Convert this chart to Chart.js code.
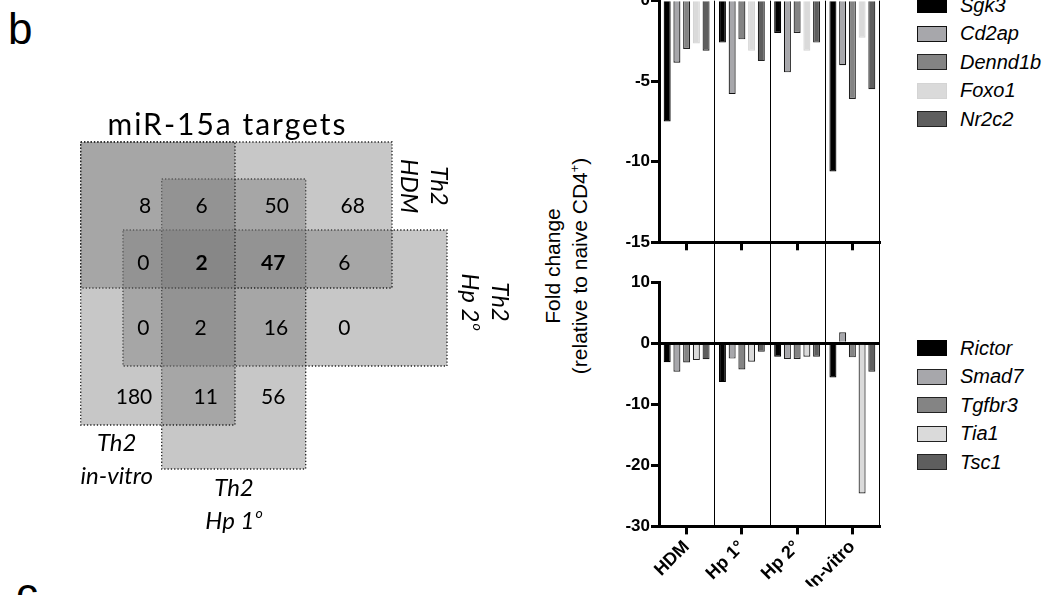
<!DOCTYPE html>
<html>
<head>
<meta charset="utf-8">
<script src="https://cdn.jsdelivr.net/npm/chart.js@4.4.1/dist/chart.umd.min.js"></script>
<style>
html,body{margin:0;padding:0;background:#fff;}
body{width:1048px;height:595px;position:relative;overflow:hidden;font-family:"Liberation Sans",Arial,sans-serif;color:#000;}
canvas{position:absolute;}
.panel{position:absolute;font-size:44px;line-height:44px;}
#ytitle{position:absolute;left:566px;top:266px;transform:translate(-50%,-50%) rotate(-90deg);white-space:nowrap;text-align:center;font-size:21px;line-height:27px;}
#ytitle sup{font-size:0.6em;line-height:0;vertical-align:super;}
.legend{position:absolute;left:917px;top:0;}
.legend .row{position:absolute;left:0;height:20px;display:flex;align-items:center;white-space:nowrap;}
.legend .box{width:30px;height:16px;box-sizing:border-box;border:1.5px solid #000;}
.legend .lbl{font-style:italic;font-size:20px;margin-left:13px;}
</style>
</head>
<body>
<div class="panel" style="left:8px;top:7px;">b</div>
<div class="panel" style="left:16px;top:572px;">c</div>

<canvas id="venn" width="460" height="440" style="left:60px;top:100px;"></canvas>
<canvas id="topChart" width="285" height="290" style="left:599px;top:-30px;"></canvas>
<canvas id="bottomChart" width="285" height="355" style="left:599px;top:240px;"></canvas>

<div id="ytitle">Fold change<br>(relative to naive CD4<sup>+</sup>)</div>
<div class="legend" id="legendTop"></div>
<div class="legend" id="legendBottom"></div>

<script>
// groups on the x axis
const groups=['HDM','Hp 1°','Hp 2°','In-vitro'];

// upper panel (fold change)
const topSeries=['Sgk3','Cd2ap','Dennd1b','Foxo1','Nr2c2'];
const sgk3=[-7.5,-2.6,-2.0,-10.6];
const cd2ap=[-3.85,-5.8,-4.45,-4.0];
const dennd1b=[-3.0,-2.4,-2.0,-6.1];
const foxo1=[-2.65,-3.1,-3.1,-2.3];
const nr2c2=[-3.1,-3.75,-2.6,-5.5];
const topTicks=[0,-5,-10,-15];

// lower panel
const bottomSeries=['Rictor','Smad7','Tgfbr3','Tia1','Tsc1'];
const rictor=[-3.1,-6.35,-2.2,-5.6];
const smad7=[-4.65,-2.5,-2.55,1.8];
const tgfbr3=[-3.15,-4.3,-2.55,-2.3];
const tia1=[-2.75,-3.0,-2.2,-24.6];
const tsc1=[-2.6,-1.4,-2.2,-4.65];
const bottomTicks=[10,0,-10,-20,-30];

// venn: overlap counts, row by row
const vennTitle='miR-15a targets';
const vennCounts=[8,6,50,68, 0,2,47,6, 0,2,16,0, 180,11,56];
const vennBold=[0,0,0,0, 0,1,1,0, 0,0,0,0, 0,0,0];
const vennSetNames=[['Th2','in-vitro'],['Th2','HDM'],['Th2','Hp 1^o'],['Th2','Hp 2^o']];

// ---- styles / layout ----
const fills=['#000000','#a7a7ab','#848484','#dadada','#5e5e5e'];
const topBorders=['#000','#111','#222','#d4d4d4','#222'];
const bottomBorders=['#000','#222','#222','#222','#222'];
const tickFont={family:'Liberation Sans',size:17,weight:'bold'};

// set boxes in diagram units [x0,x1,y0,y1] (in-vitro, HDM, Hp1, Hp2)
const vennBoxes=[[20.7,175,42,325],[20.7,332,42,188],[101.7,245.7,79,369],[63,387,130,266]];
const vennCellPos=[[85,106.7],[141.7,106.7],[216.7,106.7],[292.7,106.7],
  [83.3,163.3],[141.7,163.3],[213.3,163.3],[284.3,163.3],
  [83.3,228.3],[140.7,228.3],[216,228.3],[284.3,228.3],
  [74,297.7],[145.7,297.7],[213.3,297.7]];
// label block centre + rotation (in-vitro, HDM, Hp1, Hp2)
const vennLabelPos=[[56.7,360,0,33],[364,86,90,30],[174,404.5,0,33],[424.5,202,90,30]];

function drawRich(ctx,text,x,y,size,style,spacing){
  const parts=text.split('^');
  const ss=Math.round(size*0.6);
  ctx.letterSpacing=(spacing||0)+'px';
  ctx.font=style+' '+size+'px Lato';
  const w1=ctx.measureText(parts[0]).width;
  let w2=0;
  if(parts[1]){ctx.font=style+' '+ss+'px Lato';w2=ctx.measureText(parts[1]).width+1;}
  const x0=x-(w1+w2)/2;
  ctx.textAlign='left';
  ctx.font=style+' '+size+'px Lato';
  ctx.fillText(parts[0],x0,y);
  if(parts[1]){ctx.font=style+' '+ss+'px Lato';ctx.fillText(parts[1],x0+w1+1,y-size*0.32);}
  ctx.letterSpacing='0px';
}

const vennText={id:'vennText',afterDatasetsDraw(chart){
  const {ctx,scales:{x,y}}=chart;
  ctx.save();
  ctx.fillStyle='#000';ctx.textBaseline='middle';
  drawRich(ctx,vennTitle,x.getPixelForValue(167.5),y.getPixelForValue(25),30,'normal',2);
  vennCounts.forEach((v,i)=>{
    const p=vennCellPos[i];
    drawRich(ctx,String(v),x.getPixelForValue(p[0]),y.getPixelForValue(p[1]),21,vennBold[i]?'bold':'normal');
  });
  vennSetNames.forEach((lines,i)=>{
    const [cx,cy,rot,gap]=vennLabelPos[i];
    ctx.save();
    ctx.translate(x.getPixelForValue(cx),y.getPixelForValue(cy));
    ctx.rotate(rot*Math.PI/180);
    lines.forEach((t,j)=>drawRich(ctx,t,0,(j-(lines.length-1)/2)*gap,24,'italic'));
    ctx.restore();
  });
  ctx.restore();
}};

new Chart(document.getElementById('venn'),{
  type:'line',
  data:{datasets:vennBoxes.map(b=>({
    data:[{x:b[0],y:b[2]},{x:b[1],y:b[2]},{x:b[1],y:b[3]},{x:b[0],y:b[3]},{x:b[0],y:b[2]}],
    fill:'shape',backgroundColor:'rgba(120,120,120,0.41)',
    borderColor:'#222',borderWidth:1.3,borderDash:[1.3,2],pointRadius:0,tension:0
  }))},
  options:{responsive:false,animation:false,layout:{padding:0},
    plugins:{legend:{display:false},tooltip:{enabled:false}},
    scales:{x:{type:'linear',min:0,max:460,display:false},y:{type:'linear',min:0,max:440,reverse:true,display:false}}},
  plugins:[vennText]
});

// thin lines between the groups and on the right edge
const catLines={id:'catLines',afterDatasetsDraw(chart,args,opts){
  const {ctx,chartArea:a,scales:{x}}=chart;
  const ext=opts.extendTop||0;
  ctx.save();ctx.strokeStyle='#000';ctx.lineWidth=1;ctx.beginPath();
  for(let i=1;i<x.ticks.length;i++){
    const px=Math.round((x.getPixelForTick(i-1)+x.getPixelForTick(i))/2)+0.5;
    ctx.moveTo(px,a.top-ext);ctx.lineTo(px,a.bottom);
  }
  const r=Math.round(a.right)-0.5;
  ctx.moveTo(r,a.top-ext);ctx.lineTo(r,a.bottom);
  ctx.stroke();ctx.restore();
}};

function barSets(names,values,borders){
  return names.map((n,i)=>({label:n,data:values[i],backgroundColor:fills[i],borderColor:borders[i],
    borderWidth:1.2,categoryPercentage:0.88,barPercentage:0.72}));
}
const axisGrid={drawOnChartArea:false,tickLength:8,tickWidth:3,tickColor:'#000'};

new Chart(document.getElementById('topChart'),{
  type:'bar',
  data:{labels:groups,datasets:barSets(topSeries,[sgk3,cd2ap,dennd1b,foxo1,nr2c2],topBorders)},
  options:{responsive:false,animation:false,
    layout:{padding:{top:30.7,bottom:5.7,left:0,right:4}},
    plugins:{legend:{display:false},tooltip:{enabled:false},catLines:{extendTop:0}},
    scales:{
      x:{grid:Object.assign({offset:false},axisGrid),border:{color:'#000',width:3},ticks:{display:false},
        afterFit(s){s.height=12;}},
      y:{min:-15,max:0,afterBuildTicks(s){s.ticks=topTicks.map(v=>({value:v}));},
        ticks:{color:'#000',font:tickFont,padding:1},grid:axisGrid,border:{color:'#000',width:3},
        afterFit(s){s.width=60;}}
    }},
  plugins:[catLines]
});

new Chart(document.getElementById('bottomChart'),{
  type:'bar',
  data:{labels:groups,datasets:barSets(bottomSeries,[rictor,smad7,tgfbr3,tia1,tsc1],bottomBorders)},
  options:{responsive:false,animation:false,
    layout:{padding:{top:42.3,bottom:8.6,left:0,right:4}},
    plugins:{legend:{display:false},tooltip:{enabled:false},catLines:{extendTop:39}},
    scales:{
      x:{grid:Object.assign({offset:false},axisGrid),border:{color:'#000',width:3},
        ticks:{color:'#000',font:{family:'Liberation Sans',size:18,weight:'bold'},minRotation:45,maxRotation:45,autoSkip:false,padding:2},
        afterFit(s){s.height=60;}},
      y:{min:-30,max:10,z:1,afterBuildTicks(s){s.ticks=bottomTicks.map(v=>({value:v}));},
        ticks:{color:'#000',font:tickFont,padding:1},
        grid:{drawOnChartArea:true,color:c=>c.tick&&c.tick.value===0?'#000':'rgba(0,0,0,0)',
          lineWidth:c=>c.tick&&c.tick.value===0?3:1,tickLength:8,tickWidth:3,tickColor:'#000'},
        border:{color:'#000',width:3},
        afterFit(s){s.width=60;}}
    }},
  plugins:[catLines]
});

// legends
function buildLegend(el,names,borders,firstY){
  names.forEach((n,i)=>{
    const row=document.createElement('div');
    row.className='row';
    row.style.top=(firstY+i*28.6-10)+'px';
    const box=document.createElement('div');
    box.className='box';
    box.style.background=fills[i];
    box.style.borderColor=borders[i];
    const lbl=document.createElement('span');
    lbl.className='lbl';
    lbl.textContent=n;
    row.appendChild(box);row.appendChild(lbl);
    el.appendChild(row);
  });
}
buildLegend(document.getElementById('legendTop'),topSeries,topBorders,5);
buildLegend(document.getElementById('legendBottom'),bottomSeries,bottomBorders,348);
</script>
</body>
</html>
